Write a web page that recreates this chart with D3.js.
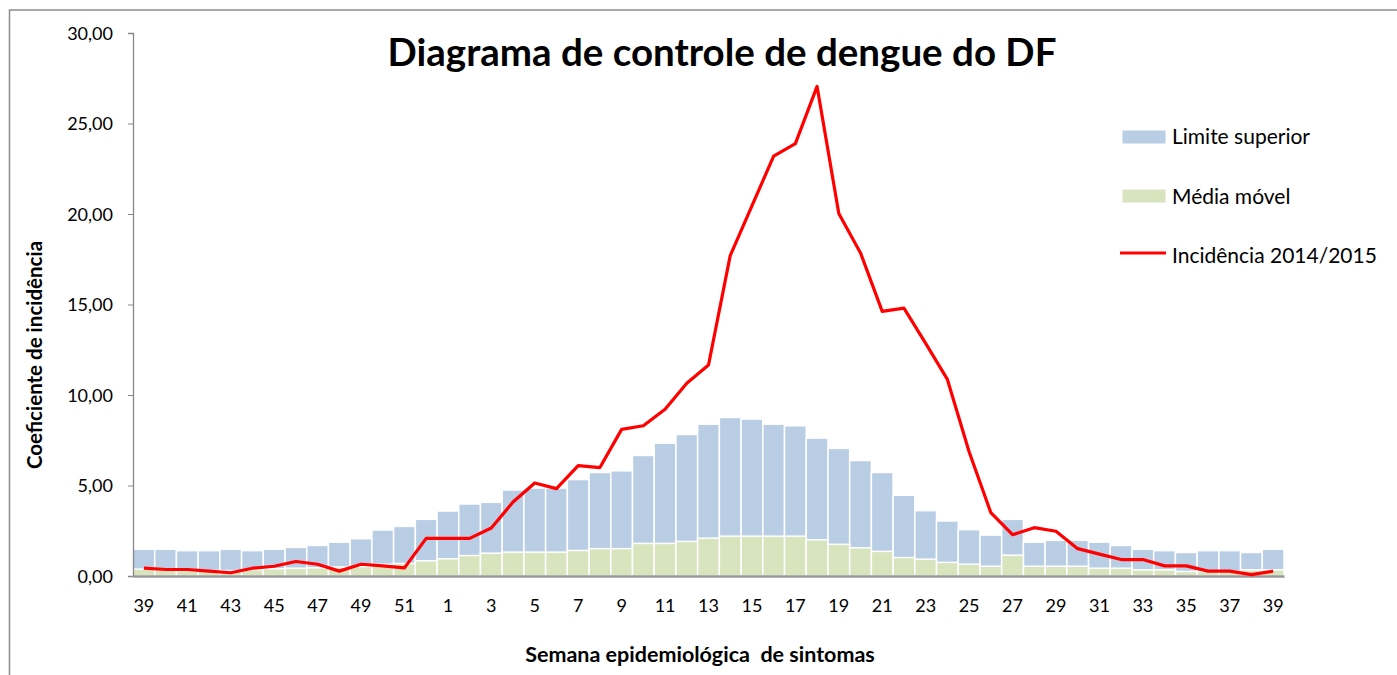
<!DOCTYPE html>
<html>
<head>
<meta charset="utf-8">
<title>Diagrama de controle de dengue do DF</title>
<script src="https://cdn.jsdelivr.net/npm/d3@7"></script>
<style>
  body { margin: 0; background: #fff; }
  text { font-family: Lato, "Open Sans", sans-serif; fill: #000; }
</style>
</head>
<body>
<script>
// semanas epidemiologicas 39/2014 ate 39/2015
var semanas = [39,40,41,42,43,44,45,46,47,48,49,50,51,52,
  1,2,3,4,5,6,7,8,9,10,11,12,13,14,15,16,17,18,19,20,21,22,23,24,25,26,27,28,29,30,31,32,33,34,35,36,37,38,39]

var limiteSuperior = [1.48,1.48,1.40,1.40,1.48,1.40,1.48,1.58,1.69,1.87,
  2.06,2.54,2.74,3.13,3.59,3.98,4.07,4.75,4.86,4.86,
  5.33,5.72,5.81,6.66,7.34,7.82,8.39,8.76,8.67,8.39,
  8.30,7.62,7.05,6.38,5.72,4.46,3.61,3.04,2.56,2.26,
  3.13,1.87,1.97,1.97,1.87,1.69,1.48,1.40,1.30,1.40,
  1.40,1.30,1.48]

var mediaMovel = [0.38,0.35,0.30,0.30,0.30,0.35,0.40,0.43,0.45,0.50,
  0.52,0.65,0.69,0.84,0.95,1.13,1.26,1.32,1.32,1.32,
  1.41,1.51,1.51,1.80,1.80,1.91,2.09,2.20,2.20,2.20,
  2.20,2.00,1.75,1.56,1.36,1.02,0.93,0.75,0.65,0.54,
  1.15,0.54,0.54,0.54,0.43,0.43,0.34,0.34,0.25,0.25,
  0.25,0.34,0.34]

var incidencia = [0.43,0.36,0.36,0.27,0.18,0.43,0.54,0.80,0.65,0.27,
  0.65,0.56,0.45,2.08,2.08,2.08,2.65,4.09,5.14,4.83,
  6.10,5.99,8.10,8.30,9.21,10.65,11.66,17.70,20.45,23.20,
  23.89,27.05,20.03,17.85,14.62,14.80,12.85,10.86,6.86,3.50,
  2.28,2.67,2.47,1.51,1.21,0.91,0.91,0.56,0.56,0.27,
  0.27,0.08,0.27]

var yTicks = [0,5,10,15,20,25,30]

var width = 1397
var height = 675

var svg = d3.select("body").append("svg")
    .attr("width", width)
    .attr("height", height)

// moldura do grafico
svg.append("rect")
    .attr("x", 9.5).attr("y", 10)
    .attr("width", width + 20).attr("height", height + 20)
    .attr("fill", "none")
    .attr("stroke", "#8c8c8c")
    .attr("stroke-width", 1.5)

var x = d3.scaleBand()
    .domain(d3.range(semanas.length))
    .range([133, 1284])
    .padding(0)

var y = d3.scaleLinear()
    .domain([0, 30])
    .range([576, 33])

var fmt = function(v) { return d3.format(".2f")(v).replace(".", ",") }

// barras limite superior
svg.append("g").selectAll("rect")
    .data(limiteSuperior)
    .enter()
    .append("rect")
        .attr("x", (d, i) => x(i))
        .attr("y", d => y(d))
        .attr("width", x.bandwidth())
        .attr("height", d => y(0) - y(d))
        .attr("fill", "#b9cde5")
        .attr("stroke", "#fff")
        .attr("stroke-width", 1.5)

// barras media movel
svg.append("g").selectAll("rect")
    .data(mediaMovel)
    .enter()
    .append("rect")
        .attr("x", (d, i) => x(i))
        .attr("y", d => y(d))
        .attr("width", x.bandwidth())
        .attr("height", d => y(0) - y(d))
        .attr("fill", "#d7e4bd")
        .attr("stroke", "#fff")
        .attr("stroke-width", 1.5)

// eixo y
var yAxis = svg.append("g")
    .attr("transform", "translate(133,0)")
    .call(d3.axisLeft(y).tickValues(yTicks).tickFormat(fmt).tickSize(5).tickPadding(15))
yAxis.select(".domain").attr("stroke", "#888").attr("stroke-width", 1.3)
yAxis.selectAll(".tick line").attr("stroke", "#888")
yAxis.selectAll("text").style("font-size", "18px").attr("dy", "0.35em")

// eixo x
var xAxis = svg.append("g")
    .attr("transform", "translate(0,576)")
    .call(d3.axisBottom(x)
        .tickValues(d3.range(0, semanas.length, 2))
        .tickFormat(i => semanas[i])
        .tickSize(0)
        .tickPadding(23))
xAxis.select(".domain").attr("stroke", "#999").attr("stroke-width", 2.5)
xAxis.selectAll("text").style("font-size", "18px")

// linha incidencia
var line = d3.line()
    .x((d, i) => x(i) + x.bandwidth() / 2)
    .y(d => y(d))

svg.append("path")
    .datum(incidencia)
    .attr("d", line)
    .attr("fill", "none")
    .attr("stroke", "#ff0000")
    .attr("stroke-width", 3.2)
    .attr("stroke-linejoin", "round")

// titulos
svg.append("text")
    .attr("x", 722).attr("y", 66)
    .attr("text-anchor", "middle")
    .style("font-size", "38.5px").style("font-weight", "bold")
    .text("Diagrama de controle de dengue do DF")

svg.append("text")
    .attr("transform", "translate(42,355) rotate(-90)")
    .attr("text-anchor", "middle")
    .style("font-size", "20.5px").style("font-weight", "bold")
    .text("Coeficiente de incidência")

svg.append("text")
    .attr("x", 700).attr("y", 662)
    .attr("text-anchor", "middle")
    .style("font-size", "21.5px").style("font-weight", "bold")
    .style("white-space", "pre")
    .text("Semana epidemiológica  de sintomas")

// legenda
var legenda = svg.append("g")
legenda.append("rect").attr("x", 1122).attr("y", 130).attr("width", 44).attr("height", 14)
    .attr("fill", "#b9cde5").attr("stroke", "#fff")
legenda.append("rect").attr("x", 1122).attr("y", 189).attr("width", 44).attr("height", 14)
    .attr("fill", "#d7e4bd").attr("stroke", "#fff")
legenda.append("line").attr("x1", 1120).attr("x2", 1166).attr("y1", 253).attr("y2", 253)
    .attr("stroke", "#ff0000").attr("stroke-width", 3)

var nomes = ["Limite superior", "Média móvel", "Incidência 2014/2015"]
legenda.selectAll("text.leg")
    .data(nomes)
    .enter()
    .append("text")
        .attr("class", "leg")
        .attr("x", 1172)
        .attr("y", (d, i) => 144 + i * 59.5)
        .style("font-size", "21px")
        .text(d => d)
</script>
</body>
</html>
